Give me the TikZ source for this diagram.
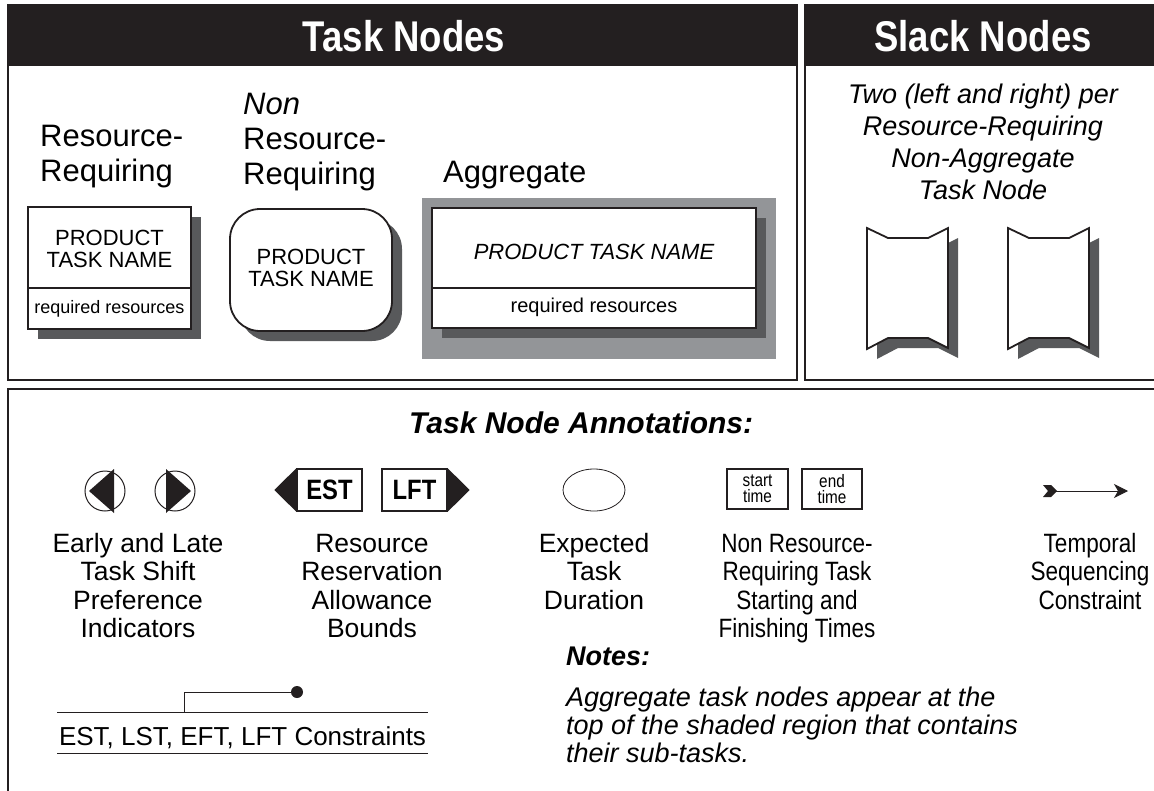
\documentclass[tikz,border=0pt]{standalone}
\usepackage{fontspec}
\setmainfont{Liberation Sans}
\newfontfamily\narrowsans[FakeStretch=0.85]{Liberation Sans}
\usetikzlibrary{arrows.meta,calc,shapes.geometric}

\definecolor{ink}{HTML}{231F20}
\definecolor{shadowgray}{HTML}{58595B}
\definecolor{regiongray}{HTML}{939598}

\newcommand{\fs}[2]{\fontsize{#1}{#2}\selectfont}

\tikzset{
  panel/.style={draw=ink, line width=1.6pt},
  headtext/.style={text=white, font=\narrowsans\bfseries\fs{43}{43}, inner sep=0pt},
  kindlabel/.style={anchor=west, align=left, font=\fs{31}{35}, inner sep=0pt},
  taskbox/.style={draw=ink, line width=1.8pt, fill=white, inner sep=0pt},
  boxtext/.style={align=center, font=\fs{22}{22}, inner sep=0pt},
  restext/.style={font=\fs{18}{18}, inner sep=0pt},
  slacktext/.style={align=center, font=\itshape\fs{27}{32}, inner sep=0pt},
  caption/.style={anchor=north, align=center, font=\fs{26.5}{28.5}, inner sep=0pt},
  narrowcaption/.style={caption, font=\narrowsans\fs{26.5}{28.5}},
  thinbox/.style={draw=ink, line width=1.2pt, inner sep=0pt},
  slacknode/.pic={
    \fill[shadowgray] (10,10) -- (31,20) -- (71,20) -- (91,10) -- (91,130)
      -- (71,120) -- (31,120) -- (10,131) -- cycle;
    \draw[ink, line width=1.8pt, fill=white, line join=miter]
      (0,0) -- (21,10) -- (61,10) -- (81,0) -- (81,120)
      -- (61,110) -- (21,110) -- (0,121) -- cycle;
  },
}

\begin{document}
\begin{tikzpicture}[x=1pt, y=-1pt]
\useasboundingbox (0,0) rectangle (1154,790);

% ---------- Task Nodes panel ----------
\fill[ink] (8,5) rectangle (797,66);
\draw[panel] (8,5) rectangle (797,380);
\node[headtext] (tasktitle) at (404,36) {Task Nodes};

\node[kindlabel] (rrlabel) at (40,157) {Resource-\\Requiring};
\node[kindlabel] (nrlabel) at (243,142) {\itshape Non\\Resource-\\Requiring};
\node[kindlabel] (aglabel) at (443,175) {Aggregate};

% resource-requiring task node
\coordinate (div) at (0,288);
\fill[shadowgray] (38,217) rectangle (201,339);
\node[taskbox, minimum width=163pt, minimum height=122pt] (rrbox) at (109.5,268) {};
\draw[ink, line width=1.8pt] (rrbox.west |- div) -- (rrbox.east |- div);
\node[boxtext] (rrname) at (109.5,249) {PRODUCT\\TASK NAME};
\node[restext] (rrres) at (109.5,309) {required resources};

% non resource-requiring task node
\fill[shadowgray, rounded corners=30pt] (240,219) rectangle (402,341);
\node[taskbox, rounded corners=30pt, minimum width=162pt, minimum height=122pt] (nrbox) at (311,270) {};
\node[boxtext] (nrname) at (311,268) {PRODUCT\\TASK NAME};

% aggregate task node on its shaded region
\fill[regiongray] (422,198) rectangle (776,359);
\fill[shadowgray] (442,218) rectangle (766,338);
\node[taskbox, minimum width=324pt, minimum height=120pt] (agbox) at (594,268) {};
\draw[ink, line width=1.8pt] (agbox.west |- div) -- (agbox.east |- div);
\node[boxtext, font=\itshape\fs{22}{22}] (agname) at (594,252) {PRODUCT TASK NAME};
\node[restext, font=\fs{20}{20}] (agres) at (594,307) {required resources};

% ---------- Slack Nodes panel ----------
\fill[ink] (805,5) rectangle (1160,66);
\draw[panel] (1160,5) -- (805,5) -- (805,380) -- (1160,380);
\node[headtext] (slacktitle) at (983,36) {Slack Nodes};
\node[slacktext] (slackdesc) at (983,142)
  {Two (left and right) per\\Resource-Requiring\\Non-Aggregate\\Task Node};
\pic (leftslack) at (867,228) {slacknode};
\pic (rightslack) at (1008,228) {slacknode};

% ---------- Annotations panel ----------
\draw[panel] (1160,389) -- (8,389) -- (8,795);
\node[anchor=base west, font=\bfseries\itshape\fs{30}{30}, inner sep=0pt] (anntitle) at (409,433) {Task Node Annotations:};

% shift preference indicators
\node[circle, draw=ink, line width=1pt, minimum size=40pt, inner sep=0pt] (early) at (105,491) {};
\fill[ink] ($(early.center)+(-16,0)$) -- ($(early.center)+(9,-22)$) -- ($(early.center)+(9,22)$) -- cycle;
\node[circle, draw=ink, line width=1pt, minimum size=40pt, inner sep=0pt] (late) at (175,491) {};
\fill[ink] ($(late.center)+(16,0)$) -- ($(late.center)+(-9,-22)$) -- ($(late.center)+(-9,22)$) -- cycle;
\node[caption] (shiftcap) at (138,532) {\strut Early and Late\\Task Shift\\Preference\\Indicators};

% reservation bounds
\node[thinbox, line width=1.4pt, minimum width=65pt, minimum height=42pt, font=\narrowsans\bfseries\fs{28}{28}] (est) at (329.5,490) {EST};
\fill[ink] (est.north west) -- (est.south west) -- ($(est.west)+(-22,0)$) -- cycle;
\node[thinbox, line width=1.4pt, minimum width=65pt, minimum height=42pt, font=\narrowsans\bfseries\fs{28}{28}] (lft) at (414.5,490) {LFT};
\fill[ink] (lft.north east) -- (lft.south east) -- ($(lft.east)+(22,0)$) -- cycle;
\node[caption] (boundcap) at (372,532) {\strut Resource\\Reservation\\Allowance\\Bounds};

% expected duration
\node[ellipse, draw=ink, line width=0.8pt, minimum width=62pt, minimum height=42pt, inner sep=0pt] (dur) at (594,490) {};
\node[caption] (durcap) at (594,532) {\strut Expected\\Task\\Duration};

% start and end times
\node[thinbox, minimum width=61pt, minimum height=40pt, align=center, font=\narrowsans\fs{18}{16}] (start) at (757.5,489) {start\\time};
\node[thinbox, minimum width=60pt, minimum height=40pt, align=center, font=\narrowsans\fs{18}{16}] (finish) at (832,489) {end\\time};
\node[narrowcaption] (timecap) at (797,532) {\strut Non Resource-\\Requiring Task\\Starting and\\Finishing Times};

% temporal sequencing constraint
\coordinate (seqfrom) at (1043,491);
\coordinate (seqto) at (1128,491);
\fill[ink] (seqfrom) ++(0,-6) -- ++(8,0) -- ++(6,6) -- ++(-6,6) -- ++(-8,0) -- ++(5,-6) -- cycle;
\draw[ink, line width=1pt, -{Stealth[length=14pt, width=14pt, inset=4pt]}] ($(seqfrom)+(12,0)$) -- (seqto);
\node[narrowcaption] (seqcap) at (1090,532) {\strut Temporal\\Sequencing\\Constraint};

% EST, LST, EFT, LFT constraint marker
\coordinate (barL) at (57,712);
\coordinate (barR) at (428,712);
\coordinate (knee) at (184,692);
\node[circle, fill=ink, minimum size=12pt, inner sep=0pt] (pin) at (297,692) {};
\draw[ink, line width=0.9pt] (barL) -- (barR);
\draw[ink, line width=0.9pt] (knee |- barL) -- (knee) -- (pin);
\node[anchor=base, font=\fs{26}{26}, inner sep=0pt] (conscap) at (242.5,745) {EST, LST, EFT, LFT Constraints};
\draw[ink, line width=0.9pt] (57,753) -- (428,753);

% notes
\node[anchor=base west, font=\bfseries\itshape\fs{27}{27}, inner sep=0pt] (notestitle) at (566,665) {Notes:};
\node[anchor=north west, align=left, font=\itshape\fs{27}{28}, inner sep=0pt] (notes) at (566,686.4)
  {\strut Aggregate task nodes appear at the\\top of the shaded region that contains\\their sub-tasks.};
\end{tikzpicture}
\end{document}
